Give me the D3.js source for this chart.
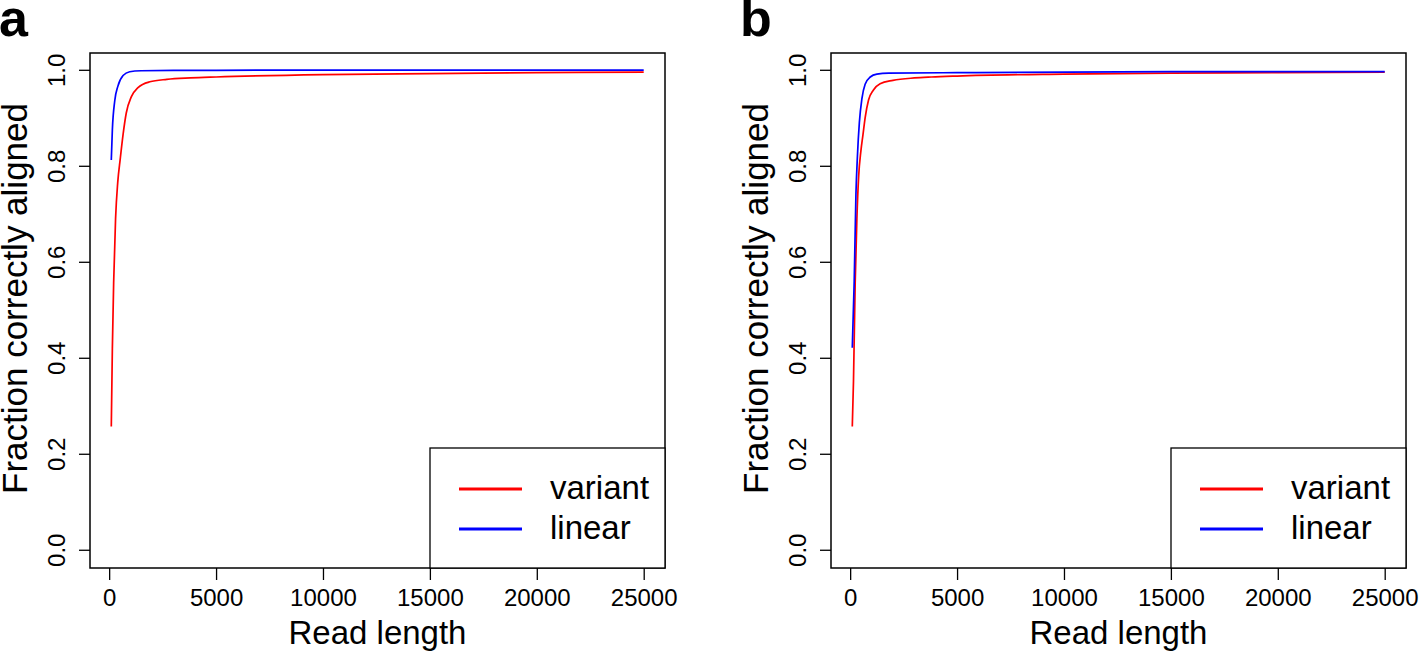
<!DOCTYPE html>
<html>
<head>
<meta charset="utf-8">
<script src="https://cdn.jsdelivr.net/npm/d3@7"></script>
<style>
  html, body { margin: 0; padding: 0; background: #fff; }
  svg { display: block; font-family: "Liberation Sans", Arial, Helvetica, sans-serif; }
</style>
</head>
<body>
<svg id="chart" width="1419" height="652"></svg>
<script>
// ---------- data ----------
const panelLabels = ["a", "b"];
const seriesNames = ["variant", "linear"];
const seriesColors = ["#ff0000", "#0000ff"];
const xTicks = [0, 5000, 10000, 15000, 20000, 25000];
const yTicks = [0.0, 0.2, 0.4, 0.6, 0.8, 1.0];
const xLabel = "Read length";
const yLabel = "Fraction correctly aligned";

// panel a
const aVariantLen = [100, 150, 210, 300, 400, 520, 650, 800, 1040, 1350, 1900, 2700, 3800, 5000, 10000, 15000, 20000, 25000];
const aVariantVal = [0.257, 0.42, 0.556, 0.69, 0.765, 0.815, 0.865, 0.91, 0.944, 0.963, 0.975, 0.98, 0.983, 0.985, 0.99, 0.992, 0.994, 0.995];
const aLinearLen = [100, 150, 260, 410, 650, 960, 1500, 3000, 5000, 10000, 15000, 20000, 25000];
const aLinearVal = [0.812, 0.875, 0.935, 0.966, 0.988, 0.996, 0.998, 0.999, 0.999, 0.9995, 0.9995, 0.9995, 0.9995];

// panel b
const bVariantLen = [100, 155, 235, 315, 400, 500, 600, 700, 860, 1090, 1400, 2000, 3000, 3800, 5000, 10000, 15000, 20000, 25000];
const bVariantVal = [0.257, 0.35, 0.556, 0.69, 0.78, 0.83, 0.865, 0.9, 0.937, 0.958, 0.971, 0.978, 0.983, 0.985, 0.987, 0.991, 0.993, 0.994, 0.995];
const bLinearLen = [100, 190, 270, 340, 430, 550, 700, 940, 1250, 1800, 5000, 15000, 25000];
const bLinearVal = [0.421, 0.56, 0.74, 0.82, 0.89, 0.94, 0.97, 0.985, 0.991, 0.993, 0.994, 0.996, 0.996];

const panels = [
  { label: panelLabels[0], series: [
      { len: aVariantLen, val: aVariantVal },
      { len: aLinearLen, val: aLinearVal } ] },
  { label: panelLabels[1], series: [
      { len: bVariantLen, val: bVariantVal },
      { len: bLinearLen, val: bLinearVal } ] }
];

// ---------- layout ----------
const svg = d3.select("#chart");
const boxW = 575, boxTop = 53, boxBottom = 568;
const panelLeft = [90, 831];
const panelOffsetX = [0, 741];

panels.forEach((p, i) => {
  const left = panelLeft[i], right = left + boxW;
  const g = svg.append("g");

  const x = d3.scaleLinear().domain([-896, 25996]).range([left, right]);
  const y = d3.scaleLinear().domain([-0.038, 1.035]).range([boxBottom, boxTop]);

  // curves
  const line = d3.line()
    .x(d => x(d[0])).y(d => y(d[1]))
    .curve(d3.curveMonotoneX);
  p.series.forEach((s, k) => {
    const pts = s.len.map((l, j) => [l, s.val[j]]);
    g.append("path")
      .attr("d", line(pts))
      .attr("fill", "none")
      .attr("stroke", seriesColors[k])
      .attr("stroke-width", 1.7);
  });

  // x axis
  const xAxis = d3.axisBottom(x).tickValues(xTicks).tickFormat(d3.format("d"))
    .tickSizeInner(12).tickSizeOuter(0).tickPadding(8);
  const gx = g.append("g").attr("transform", `translate(0,${boxBottom})`).call(xAxis);
  gx.select(".domain").remove();
  gx.selectAll("line").attr("stroke", "#000").attr("stroke-width", 1.3);
  gx.selectAll("text").attr("font-size", 24).attr("fill", "#000")
    .attr("font-family", "Liberation Sans, Arial, sans-serif")
    .attr("dy", null).attr("y", 38);

  // y axis
  const yAxis = d3.axisLeft(y).tickValues(yTicks).tickFormat(d3.format(".1f"))
    .tickSizeInner(11).tickSizeOuter(0);
  const gy = g.append("g").attr("transform", `translate(${left},0)`).call(yAxis);
  gy.select(".domain").remove();
  gy.selectAll("line").attr("stroke", "#000").attr("stroke-width", 1.3);
  gy.selectAll(".tick text")
    .attr("font-size", 24).attr("fill", "#000")
    .attr("font-family", "Liberation Sans, Arial, sans-serif")
    .attr("x", null).attr("dy", null)
    .attr("text-anchor", "middle")
    .attr("transform", "translate(-25,0) rotate(-90)");

  // box
  g.append("rect")
    .attr("x", left).attr("y", boxTop)
    .attr("width", boxW).attr("height", boxBottom - boxTop)
    .attr("fill", "none").attr("stroke", "#000").attr("stroke-width", 1.5);

  // axis titles
  g.append("text")
    .attr("x", (left + right) / 2).attr("y", 644)
    .attr("text-anchor", "middle").attr("font-size", 33).attr("fill", "#000")
    .text(xLabel);
  g.append("text")
    .attr("transform", `translate(${left - 63},${(boxTop + boxBottom) / 2 - 12}) rotate(-90)`)
    .attr("text-anchor", "middle").attr("font-size", 35).attr("fill", "#000")
    .text(yLabel);

  // panel letter
  g.append("text")
    .attr("x", panelOffsetX[i] - 1).attr("y", 36)
    .attr("font-size", 52).attr("font-weight", "bold").attr("fill", "#000")
    .text(p.label);

  // legend
  const legLeft = right - 235, legTop = 448;
  g.append("rect")
    .attr("x", legLeft).attr("y", legTop)
    .attr("width", right - legLeft).attr("height", boxBottom - legTop)
    .attr("fill", "#fff").attr("stroke", "#000").attr("stroke-width", 1.3);
  seriesNames.forEach((name, k) => {
    const ly = 489 + k * 40;
    g.append("line")
      .attr("x1", legLeft + 29).attr("x2", legLeft + 92)
      .attr("y1", ly).attr("y2", ly)
      .attr("stroke", seriesColors[k]).attr("stroke-width", 3.2);
    g.append("text")
      .attr("x", legLeft + 120).attr("y", ly + 10)
      .attr("font-size", 33).attr("fill", "#000")
      .text(name);
  });
});
</script>
</body>
</html>
